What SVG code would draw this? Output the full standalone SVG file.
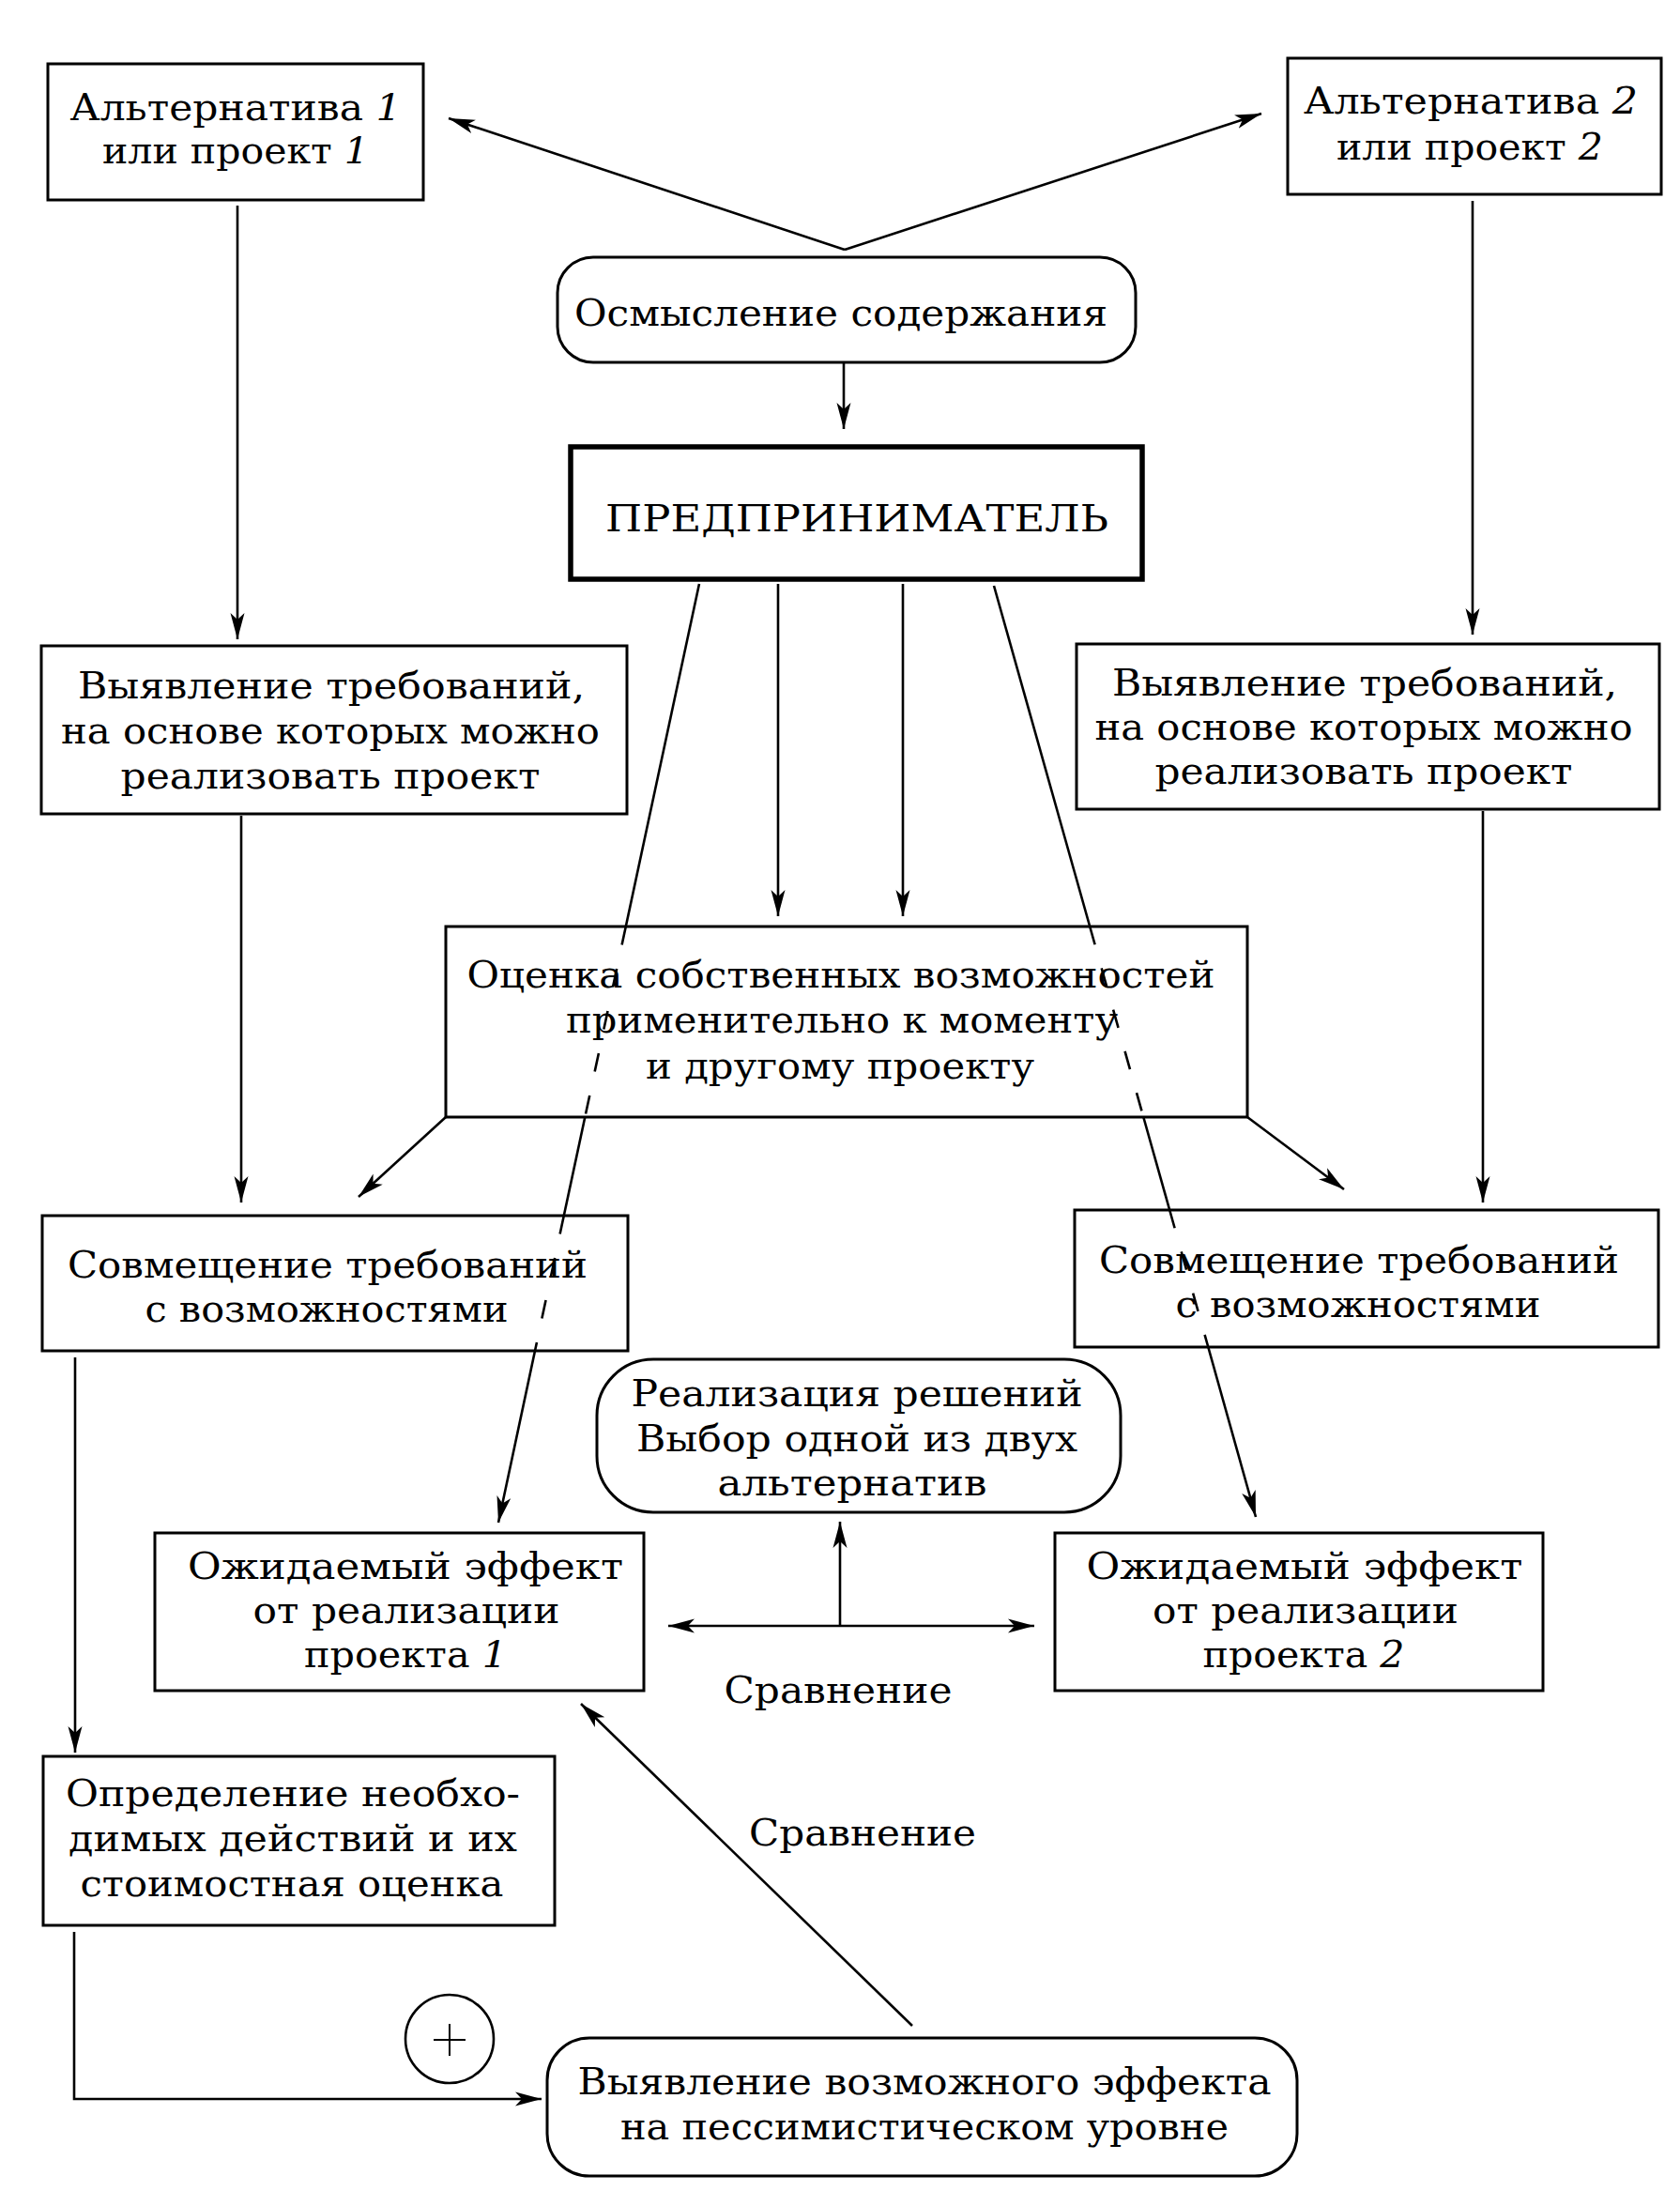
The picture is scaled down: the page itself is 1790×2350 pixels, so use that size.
<svg xmlns="http://www.w3.org/2000/svg" width="1790" height="2350" viewBox="0 0 1790 2350">
<defs>
<marker id="ah" markerUnits="userSpaceOnUse" markerWidth="32" markerHeight="20" refX="28" refY="9" orient="auto-start-reverse">
<path d="M0,1.5 L28,9 L0,16.5 L7,9 z" fill="#000"/>
</marker>
</defs>
<style>
.box{fill:#fff;stroke:#000;stroke-width:3}
.thick{stroke-width:5.5}
.t{font-family:"DejaVu Serif","Liberation Serif",serif;font-size:39px;fill:#000;text-anchor:middle}
.s{font-family:"DejaVu Serif","Liberation Serif",serif;font-size:40px;fill:#000;text-anchor:middle}
.i{font-style:italic}
.c{fill:none;stroke:#000;stroke-width:2.6}
.a{marker-end:url(#ah)}
.d{stroke-dasharray:20 26}
</style>
<rect width="1790" height="2350" fill="#fff"/>

<g id="alt1">
<rect class="box" x="51" y="68" width="400" height="145"/>
<text class="t" x="251" y="128" textLength="353" lengthAdjust="spacingAndGlyphs">Альтернатива <tspan class="i">1</tspan></text>
<text class="t" x="251" y="174" textLength="284" lengthAdjust="spacingAndGlyphs">или проект <tspan class="i">1</tspan></text>
</g>
<g id="alt2">
<rect class="box" x="1372" y="62" width="398" height="145"/>
<text class="t" x="1567" y="121" textLength="356" lengthAdjust="spacingAndGlyphs">Альтернатива <tspan class="i">2</tspan></text>
<text class="t" x="1566" y="170" textLength="284" lengthAdjust="spacingAndGlyphs">или проект <tspan class="i">2</tspan></text>
</g>
<g id="osmyslenie">
<rect class="box" x="594" y="274" width="616" height="112" rx="38"/>
<text class="t" x="896" y="347" textLength="568" lengthAdjust="spacingAndGlyphs">Осмысление содержания</text>
</g>
<g id="predprinimatel">
<rect class="box thick" x="608" y="476" width="609" height="141"/>
<text class="t" x="913" y="566" textLength="536" lengthAdjust="spacingAndGlyphs">ПРЕДПРИНИМАТЕЛЬ</text>
</g>
<g id="vyyavlenie1">
<rect class="box" x="44" y="688" width="624" height="179"/>
<text class="t" x="353" y="744" textLength="540" lengthAdjust="spacingAndGlyphs">Выявление требований,</text>
<text class="t" x="352" y="792" textLength="574" lengthAdjust="spacingAndGlyphs">на основе которых можно</text>
<text class="t" x="352" y="840" textLength="447" lengthAdjust="spacingAndGlyphs">реализовать проект</text>
</g>
<g id="vyyavlenie2">
<rect class="box" x="1147" y="686" width="621" height="176"/>
<text class="t" x="1454" y="741" textLength="538" lengthAdjust="spacingAndGlyphs">Выявление требований,</text>
<text class="t" x="1453" y="788" textLength="573" lengthAdjust="spacingAndGlyphs">на основе которых можно</text>
<text class="t" x="1453" y="835" textLength="445" lengthAdjust="spacingAndGlyphs">реализовать проект</text>
</g>
<g id="ocenka">
<rect class="box" x="475" y="987" width="854" height="203"/>
<text class="t" x="896" y="1052" textLength="797" lengthAdjust="spacingAndGlyphs">Оценка собственных возможностей</text>
<text class="t" x="897" y="1100" textLength="588" lengthAdjust="spacingAndGlyphs">применительно к моменту</text>
<text class="t" x="895" y="1149" textLength="414" lengthAdjust="spacingAndGlyphs">и другому проекту</text>
</g>
<g id="sovmeschenie1">
<rect class="box" x="45" y="1295" width="624" height="144"/>
<text class="t" x="349" y="1361" textLength="554" lengthAdjust="spacingAndGlyphs">Совмещение требований</text>
<text class="t" x="348" y="1408" textLength="387" lengthAdjust="spacingAndGlyphs">с возможностями</text>
</g>
<g id="sovmeschenie2">
<rect class="box" x="1145" y="1289" width="622" height="146"/>
<text class="t" x="1448" y="1356" textLength="554" lengthAdjust="spacingAndGlyphs">Совмещение требований</text>
<text class="t" x="1447" y="1403" textLength="389" lengthAdjust="spacingAndGlyphs">с возможностями</text>
</g>
<g id="realizaciya">
<rect class="box" x="636" y="1448" width="558" height="163" rx="60"/>
<text class="s" x="913" y="1498" textLength="481" lengthAdjust="spacingAndGlyphs">Реализация решений</text>
<text class="s" x="913" y="1546" textLength="470" lengthAdjust="spacingAndGlyphs">Выбор одной из двух</text>
<text class="s" x="908" y="1593" textLength="287" lengthAdjust="spacingAndGlyphs">альтернатив</text>
</g>
<g id="ozhidaemyj1">
<rect class="box" x="165" y="1633" width="521" height="168"/>
<text class="s" x="432" y="1682" textLength="464" lengthAdjust="spacingAndGlyphs">Ожидаемый эффект</text>
<text class="s" x="433" y="1729" textLength="327" lengthAdjust="spacingAndGlyphs">от реализации</text>
<text class="s" x="432" y="1776" textLength="216" lengthAdjust="spacingAndGlyphs">проекта <tspan class="i">1</tspan></text>
</g>
<g id="ozhidaemyj2">
<rect class="box" x="1124" y="1633" width="520" height="168"/>
<text class="s" x="1390" y="1682" textLength="465" lengthAdjust="spacingAndGlyphs">Ожидаемый эффект</text>
<text class="s" x="1391" y="1729" textLength="326" lengthAdjust="spacingAndGlyphs">от реализации</text>
<text class="s" x="1389" y="1776" textLength="215" lengthAdjust="spacingAndGlyphs">проекта <tspan class="i">2</tspan></text>
</g>
<g id="opredelenie">
<rect class="box" x="46" y="1871" width="545" height="180"/>
<text class="s" x="312" y="1924" textLength="484" lengthAdjust="spacingAndGlyphs">Определение необхо-</text>
<text class="s" x="312" y="1972" textLength="478" lengthAdjust="spacingAndGlyphs">димых действий и их</text>
<text class="s" x="311" y="2020" textLength="451" lengthAdjust="spacingAndGlyphs">стоимостная оценка</text>
</g>
<g id="vyyavlenie-effekta">
<rect class="box" x="583" y="2171" width="799" height="147" rx="45"/>
<text class="s" x="985" y="2231" textLength="739" lengthAdjust="spacingAndGlyphs">Выявление возможного эффекта</text>
<text class="s" x="985" y="2279" textLength="648" lengthAdjust="spacingAndGlyphs">на пессимистическом уровне</text>
</g>
<g id="plus">
<circle cx="479" cy="2172" r="47" fill="#fff" stroke="#000" stroke-width="2.6"/>
<path d="M462,2173 H496 M479,2156 V2190" stroke="#000" stroke-width="2"/>
</g>

<g id="connectors">
<line class="c a" x1="900" y1="266" x2="478" y2="126"/>
<line class="c a" x1="900" y1="266" x2="1344" y2="121"/>
<line class="c a" x1="899" y1="387" x2="899" y2="457"/>
<line class="c a" x1="253" y1="219" x2="253" y2="681"/>
<line class="c a" x1="1569" y1="214" x2="1569" y2="676"/>
<line class="c a" x1="829" y1="622" x2="829" y2="976"/>
<line class="c a" x1="962" y1="622" x2="962" y2="976"/>
<line class="c" x1="745" y1="622" x2="666.8" y2="987"/>
<line class="c d" x1="666.8" y1="987" x2="623.3" y2="1190"/>
<line class="c" x1="623.3" y1="1190" x2="600.8" y2="1295"/>
<line class="c d" x1="600.8" y1="1295" x2="570" y2="1439"/>
<line class="c a" x1="570" y1="1439" x2="531" y2="1622"/>
<line class="c" x1="1059" y1="624" x2="1161.2" y2="987"/>
<line class="c d" x1="1161.2" y1="987" x2="1218.3" y2="1190"/>
<line class="c" x1="1218.3" y1="1190" x2="1246.2" y2="1289"/>
<line class="c d" x1="1246.2" y1="1289" x2="1287.3" y2="1435"/>
<line class="c a" x1="1287.3" y1="1435" x2="1338" y2="1616"/>
<line class="c a" x1="475" y1="1190" x2="382" y2="1275"/>
<line class="c a" x1="1329" y1="1190" x2="1432" y2="1267"/>
<line class="c a" x1="257" y1="869" x2="257" y2="1281"/>
<line class="c a" x1="1580" y1="864" x2="1580" y2="1281"/>
<line class="c a" x1="80" y1="1446" x2="80" y2="1867"/>
<polyline class="c a" points="79,2058 79,2236 577,2236"/>
<line class="c a" x1="712" y1="1732" x2="1102" y2="1732" marker-start="url(#ah)"/>
<line class="c a" x1="895" y1="1732" x2="895" y2="1621"/>
<line class="c a" x1="972" y1="2158" x2="619" y2="1815"/>
<text class="s" x="893" y="1814" textLength="243" lengthAdjust="spacingAndGlyphs">Сравнение</text>
<text class="s" x="919" y="1966" textLength="242" lengthAdjust="spacingAndGlyphs">Сравнение</text>
</g>
</svg>
